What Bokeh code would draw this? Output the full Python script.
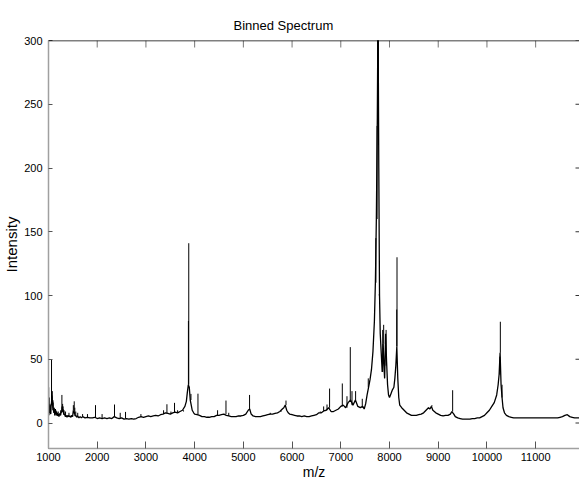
from bokeh.plotting import figure
from bokeh.models import Range1d, FixedTicker, Span
from bokeh.embed import file_html
from bokeh.resources import INLINE

# Binned mass spectrum: envelope (m/z, intensity)
base_mz = [1000, 1008, 1016, 1025, 1035, 1044, 1052, 1062, 1070, 1078, 1085, 1093, 1100, 1110,
           1120, 1130, 1140, 1150, 1160, 1170, 1180, 1190, 1200, 1215, 1230, 1245, 1260, 1270,
           1280, 1290, 1300, 1315, 1330, 1345, 1360, 1380, 1400, 1420, 1440, 1460, 1480, 1495,
           1510, 1520, 1530, 1545, 1560, 1580, 1600, 1625, 1650, 1675,
           1700, 1750, 1800, 1850, 1900, 1950, 2000, 2050, 2100, 2150, 2200, 2250, 2300, 2350,
           2400, 2450, 2500, 2550, 2600, 2650, 2700, 2750, 2800, 2850, 2900, 2950, 3000, 3050,
           3100, 3150, 3200, 3250, 3300, 3350, 3400, 3450, 3500, 3550, 3600, 3650, 3700, 3750,
           3800, 3830, 3850, 3870, 3890, 3910, 3930, 3950, 3980, 4000, 4050, 4100, 4150, 4200,
           4250, 4300, 4350, 4400, 4450, 4500, 4550, 4600, 4650, 4700, 4750, 4800, 4850, 4900,
           4950, 5000, 5050, 5100, 5130, 5160, 5200, 5250, 5300, 5350, 5400, 5450, 5500, 5550,
           5600, 5650, 5700, 5750, 5800, 5830, 5860, 5890, 5920, 5950, 6000, 6050, 6100, 6150,
           6200, 6250, 6300, 6350, 6400, 6450, 6500, 6550, 6600, 6650, 6700, 6750, 6800, 6850,
           6900, 6950, 7000, 7050, 7100, 7150, 7200, 7250, 7300, 7350, 7400, 7450, 7480, 7510,
           7540, 7570, 7600, 7630, 7660, 7690, 7710, 7730, 7750, 7764, 7780, 7795, 7810, 7830,
           7850, 7870, 7885, 7900, 7920, 7940, 7960, 7980, 8000, 8030, 8060, 8090, 8110, 8130,
           8150, 8170, 8190, 8210, 8250, 8300, 8350, 8400, 8450, 8500, 8550, 8600, 8650, 8700,
           8750, 8800, 8830, 8860, 8890, 8920, 8950, 9000, 9050, 9100, 9150, 9200, 9250, 9280,
           9320, 9350, 9400, 9450, 9500, 9550, 9600, 9650, 9700, 9750, 9800, 9850, 9900, 9950,
           10000, 10050, 10100, 10150, 10200, 10230, 10250, 10270, 10290, 10310, 10330, 10360,
           10400, 10450, 10500, 10550, 10600, 10650, 10700, 10750, 10800, 10850, 10900, 10950,
           11000, 11050, 11100, 11150, 11200, 11250, 11300, 11350, 11400, 11450, 11500, 11550,
           11600, 11650, 11700, 11750, 11800, 11850, 11900]
base_int = [12, 6, 14, 8, 11, 7, 13, 16, 21, 14, 17, 10, 12, 8,
            10, 6, 11, 7, 9, 6, 8, 5.5, 7, 5, 7.5, 6, 9, 8,
            13, 9, 11, 6.5, 7, 5, 6, 4.5, 6, 5, 5.5, 4.5, 6, 5,
            10, 7.5, 9, 5.5, 6, 4.5, 5.5, 4, 5, 4,
            5, 4, 4.5, 4, 4, 4.5, 3.5, 4, 3.5, 4, 3.5, 4, 3.5, 5,
            4, 3.5, 4, 3, 3.5, 3, 3.5, 3, 3.5, 4.5, 5, 4.5, 5, 5.5,
            5, 5.5, 6, 5.5, 6.5, 7, 8, 7.5, 7, 8, 8.5, 8, 9, 10,
            13, 17, 24, 30, 28, 18, 14, 10, 8, 7, 6.5, 6, 5, 5,
            4.5, 4.5, 5, 5, 6, 6, 6.5, 7, 6, 5.5, 5, 5, 5, 5.5,
            5.5, 6, 7, 10, 11, 7, 5.5, 5, 5, 5, 5.5, 6, 6.5, 7,
            7, 7.5, 8, 9, 11, 12, 14, 10, 8, 7, 6.5, 6, 5.5, 5.5,
            5, 5.5, 5, 5, 5.5, 6, 6.5, 8, 8, 9.5, 10, 12, 9, 9,
            10, 11, 13, 14, 12, 16, 18, 14, 18, 13, 12, 13, 11, 15,
            22, 28, 34, 42, 56, 80, 110, 160, 240, 330, 200, 100, 70, 55,
            40, 62, 45, 35, 70, 48, 30, 22, 20, 23, 26, 28, 35, 45,
            60, 35, 20, 14, 12, 10, 8, 7, 6, 6, 6, 6.5, 7, 8,
            10, 12, 11, 13, 10, 9, 8, 7, 6, 5.5, 6, 6, 7, 9,
            7, 5, 4, 3.5, 3, 3, 3, 3, 3.5, 3.5, 4, 4, 5, 6,
            8, 10, 13, 16, 22, 30, 38, 55, 30, 20, 12, 8,
            6, 5, 4.5, 4, 4, 4, 4, 4, 4, 4, 4, 4,
            4, 4, 4, 4, 4, 4, 4, 4, 4, 4, 4.5, 5,
            6, 6.5, 5, 4.5, 4, 4, 4]

# Narrow spikes rising above the envelope
spike_mz = [1004, 1015, 1030, 1045, 1062, 1068, 1078, 1090, 1095, 1110, 1120, 1135, 1150,
            1170, 1200, 1250, 1275, 1290, 1300, 1320, 1350, 1420, 1510, 1528, 1540, 1560,
            1600, 1700, 1800, 1965, 2100, 2355, 2472, 2581, 2897, 3362, 3431, 3513, 3587,
            3650, 3772, 3872, 3879, 3924, 4068, 4471, 4643, 4700, 5127, 5552, 5778, 5875,
            6579, 6648, 6717, 6770, 7031, 7127, 7195, 7230, 7304, 7441, 7564, 7720, 7745,
            7758, 7764, 7770, 7790, 7860, 7880, 7930, 8148, 8154, 8803, 8870, 9296, 10265,
            10275, 10310]
spike_base = [12, 14, 11, 7, 16, 16, 14, 12, 10, 8, 10, 6, 7,
              6, 7, 6, 9, 9, 11, 7, 5, 5, 10, 9, 7.5, 6,
              5.5, 5, 4.5, 4.5, 3.5, 5, 3.5, 3.5, 5, 7, 7.5, 7, 8.5,
              8, 10, 30, 30, 18, 6.5, 6, 7, 5.5, 11, 7, 9, 14,
              8, 9.5, 10, 12, 13, 12, 18, 14, 18, 12, 28, 110, 160,
              240, 240, 240, 100, 40, 62, 45, 60, 60, 12, 13, 9, 38,
              55, 20]
spike_top = [28, 20, 15, 14, 50, 22, 25, 18, 16, 11, 12, 10, 10,
             9, 9, 10, 22, 15, 13, 10, 9, 8, 14, 17, 12, 9,
             8, 7, 7, 14, 7, 14.5, 8, 8.7, 7, 10, 14.7, 9, 15.8,
             10, 9, 80, 141, 22.8, 23, 10, 17.6, 8, 22, 8, 9.5, 17.6,
             9, 13, 14.5, 27, 31, 21, 59.5, 25, 25, 19, 35, 145, 233,
             320, 330, 320, 101, 73, 77, 73, 89, 130, 11, 14, 25.7, 52,
             79.4, 30]

x_ticks = [1000, 2000, 3000, 4000, 5000, 6000, 7000, 8000, 9000, 10000, 11000]
y_ticks = [0, 50, 100, 150, 200, 250, 300]

X_MIN, X_MAX = 1000, 11900
Y_MIN, Y_MAX = -20, 300
TICK_LEN_MZ = 82      # length of the right-edge ticks, in m/z units
TICK_LEN_INT = 5.5    # length of the top-edge ticks, in intensity units

FONT = "Liberation Sans, Arial, sans-serif"

p = figure(width=579, height=482, output_backend="svg", toolbar_location=None,
           x_range=Range1d(X_MIN, X_MAX), y_range=Range1d(Y_MIN, Y_MAX),
           x_axis_label="m/z", y_axis_label="Intensity",
           min_border_left=48, min_border_right=0, min_border_top=40, min_border_bottom=34)

p.title.text = "Binned Spectrum"
p.title.align = "left"
p.title.offset = 185
p.title.standoff = 16
p.title.text_font = FONT
p.title.text_font_size = "13px"
p.title.text_font_style = "normal"
p.title.text_color = "black"

p.grid.visible = False
p.outline_line_color = None
p.background_fill_color = "white"
p.border_fill_color = "white"

p.line(base_mz, base_int, line_color="black", line_width=1.3)
p.segment(x0=spike_mz, y0=spike_base, x1=spike_mz, y1=spike_top,
          line_color="black", line_width=1.0)

for ax in (p.xaxis[0], p.yaxis[0]):
    ax.axis_line_color = "#a0a0a0"
    ax.axis_line_width = 1.5
    ax.major_tick_out = 0
    ax.major_tick_line_color = "#555555"
    ax.minor_tick_line_color = None
    ax.major_label_text_font = FONT
    ax.major_label_text_font_size = "11px"
    ax.major_label_text_color = "black"
    ax.axis_label_text_font = FONT
    ax.axis_label_text_font_style = "normal"
    ax.axis_label_text_color = "black"

p.xaxis[0].ticker = FixedTicker(ticks=x_ticks)
p.yaxis[0].ticker = FixedTicker(ticks=y_ticks)
p.xaxis[0].major_tick_in = 7
p.yaxis[0].major_tick_in = 4
p.xaxis[0].major_label_standoff = 4
p.yaxis[0].major_label_standoff = 6
p.xaxis[0].axis_label_text_font_size = "14px"
p.xaxis[0].axis_label_standoff = 0
p.yaxis[0].axis_label_text_font_size = "15px"
p.yaxis[0].axis_label_standoff = 1

# Box: black top edge, inward ticks along the top and right edges
p.add_layout(Span(location=Y_MAX, dimension="width", line_color="black", line_width=1.5))
p.segment(x0=x_ticks, y0=[Y_MAX] * len(x_ticks), x1=x_ticks,
          y1=[Y_MAX - TICK_LEN_INT] * len(x_ticks), line_color="#777777", line_width=1)
p.segment(x0=[X_MAX] * len(y_ticks), y0=y_ticks, x1=[X_MAX - TICK_LEN_MZ] * len(y_ticks),
          y1=y_ticks, line_color="#333333", line_width=1)

open("out.html", "w").write(file_html(p, INLINE))
